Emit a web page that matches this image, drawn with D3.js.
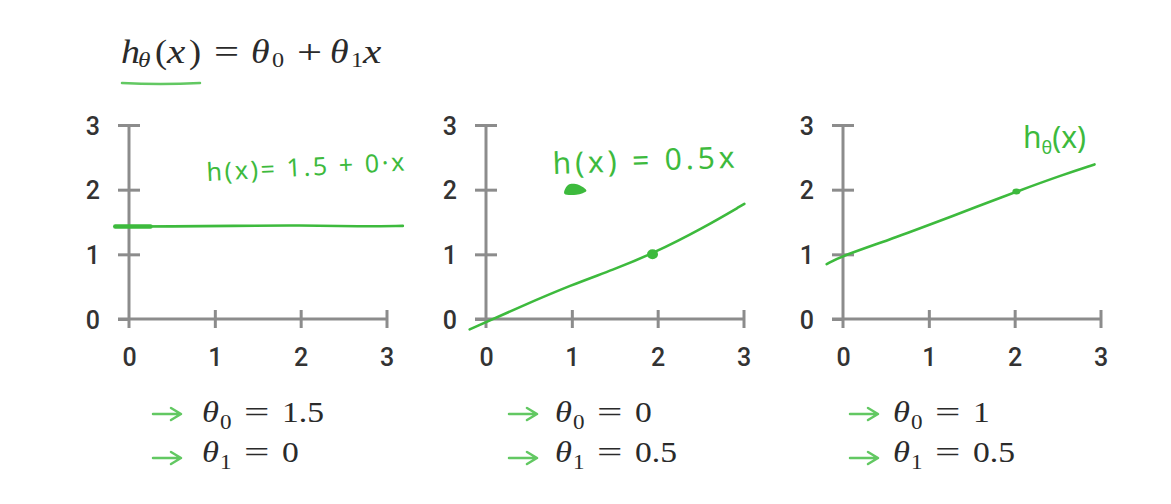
<!DOCTYPE html>
<html><head><meta charset="utf-8">
<script src="https://cdn.jsdelivr.net/npm/d3@7"></script>
<style>
html,body{margin:0;padding:0;background:#fff;}
svg{display:block;}
</style></head>
<body>
<svg id="chart" width="1171" height="504"></svg>
<script>
// ---- data ----
const xTicks = [0, 1, 2, 3];
const yTicks = [0, 1, 2, 3];
const theta0Labels = ["1.5", "0", "1"];
const theta1Labels = ["0", "0.5", "0.5"];
// hand-drawn hypothesis lines
const line1X = [-0.16, 0.5, 1.2, 2.0, 2.7, 3.19];
const line1Y = [1.43, 1.43, 1.44, 1.45, 1.43, 1.44];
const line2X = [-0.19, 0.40, 1.0, 1.48, 1.94, 2.52, 3.01];
const line2Y = [-0.16, 0.19, 0.53, 0.76, 1.01, 1.40, 1.78];
const line3X = [-0.19, 0.0, 0.55, 1.01, 1.59, 2.02, 2.56, 2.93];
const line3Y = [0.85, 0.98, 1.23, 1.46, 1.75, 1.97, 2.23, 2.39];
const dot2 = [1.94, 1.0];
const blob2 = [1.03, 2.0];
const dot3 = [2.02, 1.97];
const annotations = ["h(x)= 1.5 + 0·x", "h(x) = 0.5x", "hθ(x)"];

// ---- layout ----
const svg = d3.select("#chart");
const GRAY = "#8c8c8c", GREEN = "#3dba3d", LGREEN = "#62c862", TXT = "#333", MATH = "#2a2a2a";
const panelLeft = [129, 486, 843];
const labelLeft = [202, 555, 893];
const arrowLeft = [153, 509, 850];
const axisW = 257.5, yTop = 125, yBot = 319;
const lines = [[line1X, line1Y], [line2X, line2Y], [line3X, line3Y]];

function piece(parent, s, px, py, size, italic, sx) {
  parent.append("text")
    .attr("transform", `translate(${px},${py}) scale(${sx},1)`)
    .attr("font-family", "Liberation Serif").attr("font-size", size)
    .attr("font-style", italic ? "italic" : "normal").attr("fill", MATH).text(s);
}

// title: [text, x, baseline, size, italic, scaleX]
const titleParts = [
  ["h", 121, 63, 33, true, 1.15], ["θ", 138, 67, 22, true, 1.15], ["(", 155, 63, 33, false, 1.1],
  ["x", 167, 63, 33, true, 1.25], [")", 189, 63, 33, false, 1.1], ["=", 214, 63, 33, false, 1.35],
  ["θ", 251, 63, 33, true, 1.15], ["0", 272, 67, 22, false, 1.1], ["+", 297, 63, 33, false, 1.35],
  ["θ", 330, 63, 33, true, 1.15], ["1", 351, 67, 22, false, 1.1], ["x", 363, 63, 33, true, 1.25]
];
const tg = svg.append("g");
titleParts.forEach(p => piece(tg, ...p));
svg.append("path").attr("d", "M122,83 Q160,85 200,83").attr("fill", "none")
  .attr("stroke", LGREEN).attr("stroke-width", 2.5).attr("stroke-linecap", "round");

panelLeft.forEach((ox, i) => {
  const x = d3.scaleLinear().domain([0, 3]).range([ox, ox + axisW]);
  const y = d3.scaleLinear().domain([0, 3]).range([yBot, yTop]);
  const g = svg.append("g");

  // y axis
  const ya = g.append("g").attr("transform", `translate(${x(0)},0)`)
    .call(d3.axisLeft(y).tickValues(yTicks).tickSize(11).tickPadding(0).tickFormat(d3.format("d")));
  ya.select(".domain").remove();
  ya.selectAll(".tick line").attr("x1", -11).attr("x2", d => d === 0 ? 0 : 11)
    .attr("stroke", GRAY).attr("stroke-width", 3);
  ya.selectAll(".tick text").attr("x", -29).attr("dy", "0.36em")
    .attr("font-family", "Roboto").attr("font-weight", 500).attr("font-size", 25).attr("fill", TXT);
  g.append("line").attr("x1", x(0)).attr("x2", x(0)).attr("y1", y(3)).attr("y2", y(0) + 9)
    .attr("stroke", GRAY).attr("stroke-width", 3);

  // x axis
  const xa = g.append("g").attr("transform", `translate(0,${y(0)})`)
    .call(d3.axisBottom(x).tickValues(xTicks).tickSize(9).tickPadding(0).tickFormat(d3.format("d")));
  xa.select(".domain").remove();
  xa.selectAll(".tick line").attr("y1", d => d === 0 ? 0 : -9).attr("y2", 9)
    .attr("stroke", GRAY).attr("stroke-width", d => d === 0 ? 0 : 3);
  xa.selectAll(".tick text").attr("y", 38).attr("dy", "0.36em")
    .attr("font-family", "Roboto").attr("font-weight", 500).attr("font-size", 25).attr("fill", TXT);
  g.append("line").attr("x1", x(0) - 11).attr("x2", x(3)).attr("y1", y(0)).attr("y2", y(0))
    .attr("stroke", GRAY).attr("stroke-width", 3);

  // hypothesis line
  const [lx, ly] = lines[i];
  const pts = lx.map((v, k) => [v, ly[k]]);
  g.append("path").datum(pts)
    .attr("d", d3.line().x(d => x(d[0])).y(d => y(d[1])).curve(d3.curveBasis))
    .attr("fill", "none").attr("stroke", GREEN).attr("stroke-width", 2.6).attr("stroke-linecap", "round");

  if (i === 0) {
    g.append("line").attr("x1", x(-0.16)).attr("x2", x(0.25)).attr("y1", y(1.43)).attr("y2", y(1.43))
      .attr("stroke", GREEN).attr("stroke-width", 4.5).attr("stroke-linecap", "round");
  }
  if (i === 1) {
    g.append("ellipse").attr("cx", x(dot2[0])).attr("cy", y(dot2[1])).attr("rx", 5.5).attr("ry", 5).attr("fill", GREEN);
    g.append("path").attr("d", d3.line().curve(d3.curveCardinalClosed)([
        [x(blob2[0]) - 10, y(blob2[1]) + 4], [x(blob2[0]) - 6, y(blob2[1]) - 5], [x(blob2[0]) + 4, y(blob2[1]) - 5],
        [x(blob2[0]) + 12, y(blob2[1]) + 1], [x(blob2[0]) + 2, y(blob2[1]) + 5]]))
      .attr("fill", GREEN);
  }
  if (i === 2) {
    g.append("ellipse").attr("cx", x(dot3[0])).attr("cy", y(dot3[1])).attr("rx", 4).attr("ry", 3).attr("fill", GREEN);
  }

  // bottom labels
  const bx = labelLeft[i], ax = arrowLeft[i];
  [[theta0Labels[i], "0", 422, 414], [theta1Labels[i], "1", 462, 458]].forEach(([val, sub, by, ay]) => {
    g.append("path").attr("d", `M${ax},${ay} L${ax + 27},${ay} M${ax + 18},${ay - 6} L${ax + 28},${ay} L${ax + 18},${ay + 6}`)
      .attr("fill", "none").attr("stroke", LGREEN).attr("stroke-width", 2.5)
      .attr("stroke-linecap", "round").attr("stroke-linejoin", "round");
    piece(g, "θ", bx, by, 30, true, 1.15);
    piece(g, sub, bx + 18, by + 7, 21, false, 1.1);
    piece(g, "=", bx + 42, by, 30, false, 1.5);
    piece(g, val, bx + 80, by, 30, false, 1.12);
  });
});

// handwritten annotations
const hand = { family: "Noto Sans", fill: GREEN };
svg.append("text").attr("x", 207).attr("y", 181).attr("transform", "rotate(-3,207,181)")
  .attr("font-family", hand.family).attr("font-size", 25).attr("font-weight", 400).attr("fill", hand.fill)
  .attr("textLength", 198).text(annotations[0]);
svg.append("text").attr("x", 553).attr("y", 174).attr("transform", "rotate(-2,553,174)")
  .attr("font-family", hand.family).attr("font-size", 30).attr("font-weight", 400).attr("fill", hand.fill)
  .attr("textLength", 182).text(annotations[1]);
const h3 = svg.append("text").attr("x", 1023).attr("y", 148)
  .attr("font-family", hand.family).attr("font-size", 30).attr("font-weight", 400).attr("fill", hand.fill);
h3.append("tspan").text("h");
h3.append("tspan").attr("font-size", 18).attr("dy", 6).text("θ");
h3.append("tspan").attr("dy", -6).text("(x)");
</script>
</body></html>
